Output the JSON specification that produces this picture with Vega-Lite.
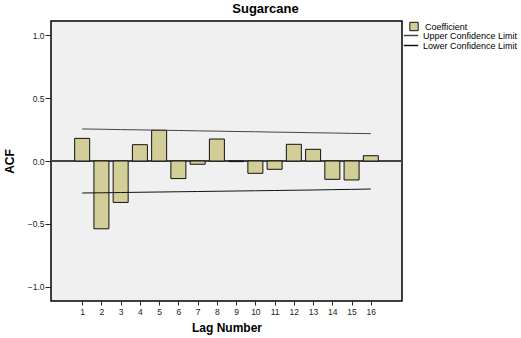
{
  "$schema": "https://vega.github.io/schema/vega-lite/v6.json",
  "autosize": "none",
  "width": 351,
  "height": 280,
  "padding": {"left": 51, "top": 21, "right": 119, "bottom": 37},
  "background": "white",
  "title": {"text": "Sugarcane", "fontSize": 13, "fontWeight": "bold", "font": "Liberation Sans", "color": "black", "offset": 5, "dx": 39},
  "config": {
    "view": {"fill": "#f0f0f0", "stroke": "black", "strokeWidth": 1.5},
    "axis": {"labelFont": "Liberation Sans", "labelFontSize": 8.5, "labelColor": "#222", "titleFont": "Liberation Sans", "titleFontSize": 12, "titleFontWeight": "bold", "titleColor": "black", "grid": false, "domain": false, "tickColor": "#222"},
    "legend": {"labelFont": "Liberation Sans", "labelFontSize": 9, "labelColor": "black", "padding": 0, "rowPadding": 0, "titleFontSize": 0}
  },
  "data": {"values": [
    {"lag": 1, "acf": 0.18, "upper": 0.255, "lower": -0.255},
    {"lag": 2, "acf": -0.54, "upper": 0.253, "lower": -0.253},
    {"lag": 3, "acf": -0.33, "upper": 0.250, "lower": -0.251},
    {"lag": 4, "acf": 0.13, "upper": 0.248, "lower": -0.249},
    {"lag": 5, "acf": 0.245, "upper": 0.245, "lower": -0.247},
    {"lag": 6, "acf": -0.14, "upper": 0.243, "lower": -0.245},
    {"lag": 7, "acf": -0.026, "upper": 0.240, "lower": -0.243},
    {"lag": 8, "acf": 0.175, "upper": 0.238, "lower": -0.241},
    {"lag": 9, "acf": -0.005, "upper": 0.235, "lower": -0.239},
    {"lag": 10, "acf": -0.098, "upper": 0.233, "lower": -0.237},
    {"lag": 11, "acf": -0.066, "upper": 0.230, "lower": -0.235},
    {"lag": 12, "acf": 0.133, "upper": 0.228, "lower": -0.233},
    {"lag": 13, "acf": 0.093, "upper": 0.225, "lower": -0.231},
    {"lag": 14, "acf": -0.146, "upper": 0.223, "lower": -0.228},
    {"lag": 15, "acf": -0.151, "upper": 0.220, "lower": -0.226},
    {"lag": 16, "acf": 0.042, "upper": 0.218, "lower": -0.223}
  ]},
  "encoding": {
    "x": {"field": "lag", "type": "quantitative", "scale": {"domain": [-0.36, 17.36], "nice": false, "zero": false},
      "axis": {"title": "Lag Number", "values": [1,2,3,4,5,6,7,8,9,10,11,12,13,14,15,16], "tickSize": 4, "labelPadding": 2, "titlePadding": 7, "labelFlush": false}}
  },
  "layer": [
    {
      "mark": {"type": "rule", "color": "#444", "strokeWidth": 1},
      "encoding": {"x": {"value": 0}, "x2": {"value": 351}, "y": {"datum": 0, "type": "quantitative"}}
    },
    {
      "mark": {"type": "bar", "size": 15, "stroke": "#111", "strokeWidth": 1},
      "encoding": {
        "y": {"field": "acf", "type": "quantitative", "scale": {"domain": [-1.115, 1.115], "nice": false},
          "axis": {"title": "ACF", "values": [-1, -0.5, 0, 0.5, 1], "format": ".1f", "tickSize": 6, "labelPadding": 1, "titlePadding": 11}},
        "y2": {"datum": 0},
        "fill": {"datum": "Coefficient", "type": "nominal", "scale": {"range": ["#d3ce97"]},
          "legend": {"orient": "none", "legendX": 358, "legendY": 0.5, "title": null, "symbolType": "square", "symbolSize": 70, "symbolStrokeColor": "#111", "symbolStrokeWidth": 1, "labelOffset": 6}}
      }
    },
    {
      "mark": {"type": "line", "strokeWidth": 1},
      "encoding": {
        "y": {"field": "upper", "type": "quantitative"},
        "stroke": {"datum": "Upper Confidence Limit", "type": "nominal",
          "scale": {"domain": ["Upper Confidence Limit", "Lower Confidence Limit"], "range": ["#444", "#111"]},
          "legend": {"orient": "none", "legendX": 355, "legendY": 9.5, "title": null, "symbolType": "M-1.7,0H1.7", "symbolSize": 72, "symbolStrokeWidth": 1.5, "labelOffset": 7}}
      }
    },
    {
      "mark": {"type": "line", "strokeWidth": 1},
      "encoding": {
        "y": {"field": "lower", "type": "quantitative"},
        "stroke": {"datum": "Lower Confidence Limit", "type": "nominal"}
      }
    }
  ]
}
